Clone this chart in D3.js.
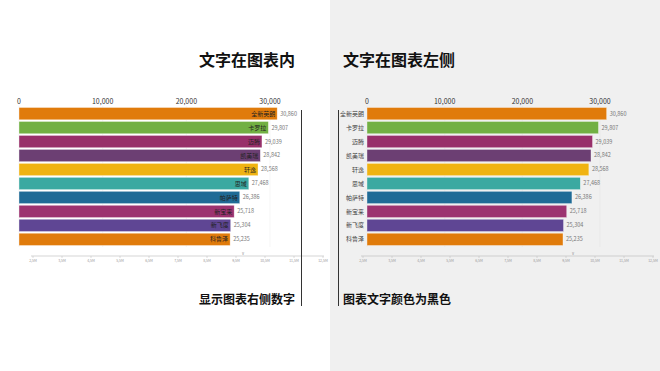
<!DOCTYPE html>
<html lang="zh">
<head>
<meta charset="UTF-8">
<script src="https://d3js.org/d3.v7.min.js"></script>
<style>
    body { margin: 0; background: #fff; }
    svg { display: block; font-family: "Noto Sans CJK SC", "Noto Sans", sans-serif; }
</style>
</head>
<body>
<div id="chart"></div>
<script>
    // data
    var names = ["全新英朗", "卡罗拉", "迈腾", "凯美瑞", "轩逸", "思域", "帕萨特", "新宝来", "新飞度", "科鲁泽"];
    var values = [30860, 29807, 29039, 28842, 28568, 27468, 26386, 25718, 25304, 25235];
    var colors = ["#e07b0b", "#72b043", "#98306a", "#6c3f73", "#f0b312", "#3ba9a1", "#1f6b96", "#9c3370", "#5f4694", "#e07b0b"];
    var topTicks = [0, 10000, 20000, 30000];
    var bottomTicks = ["2,5M", "3,5M", "4,5M", "5,5M", "6,5M", "7,5M", "8,5M", "9,5M", "10,5M", "11,5M", "12,5M"];

    var W = 660, H = 371;
    var svg = d3.select("#chart").append("svg").attr("width", W).attr("height", H);

    // right half background
    svg.append("rect").attr("x", 330).attr("y", 0).attr("width", 330).attr("height", H).attr("fill", "#f0f0f0");

    var fmt = d3.format(",");

    function panel(opt) {
        var g = svg.append("g");
        var x = d3.scaleLinear().domain([0, 30000]).range([opt.x0, opt.x30]);
        var y = d3.scaleBand().domain(d3.range(names.length)).range([107.5, 245.5]).paddingInner(0.12);

        // faint gridlines
        g.selectAll("line.grid").data(topTicks).enter().append("line")
            .attr("x1", function (d) { return x(d); }).attr("x2", function (d) { return x(d); })
            .attr("y1", 106).attr("y2", 247)
            .attr("stroke", opt.gridColor).attr("stroke-width", 0.6);

        // top tick labels
        g.selectAll("text.tick").data(topTicks).enter().append("text")
            .attr("x", function (d) { return x(d); }).attr("y", 104)
            .attr("text-anchor", "middle").attr("font-size", "7px").attr("fill", "#333")
            .text(function (d) { return fmt(d); });

        // bars
        g.selectAll("rect.bar").data(values).enter().append("rect")
            .attr("x", x(0)).attr("y", function (d, i) { return y(i); })
            .attr("width", function (d) { return x(d) - x(0); })
            .attr("height", y.bandwidth())
            .attr("fill", function (d, i) { return colors[i]; })
            .attr("stroke", "#ffffff").attr("stroke-opacity", 0.6).attr("stroke-width", 0.6);

        // names
        g.selectAll("text.name").data(names).enter().append("text")
            .attr("x", function (d, i) { return opt.inside ? x(values[i]) - 2 : x(0) - 3; })
            .attr("y", function (d, i) { return y(i) + y.bandwidth() / 2; })
            .attr("dy", "0.35em").attr("text-anchor", "end")
            .attr("font-size", "6px").attr("fill", opt.inside ? "#222" : "#444")
            .text(function (d) { return d; });

        // values
        g.selectAll("text.val").data(values).enter().append("text")
            .attr("x", function (d) { return x(d) + 3; })
            .attr("y", function (d, i) { return y(i) + y.bandwidth() / 2; })
            .attr("dy", "0.35em")
            .attr("font-size", "5.5px").attr("fill", "#777")
            .text(function (d) { return fmt(d); });

        // small bottom axis
        var b = d3.scalePoint().domain(bottomTicks).range([opt.bx0, opt.bx0 + 290]);
        g.append("line").attr("x1", opt.bx0 - 2).attr("x2", opt.bx0 + 291)
            .attr("y1", 256).attr("y2", 256).attr("stroke", "#bbb").attr("stroke-width", 0.6);
        g.selectAll("line.bt").data(bottomTicks).enter().append("line")
            .attr("x1", function (d) { return b(d); }).attr("x2", function (d) { return b(d); })
            .attr("y1", 256).attr("y2", 258).attr("stroke", "#bbb").attr("stroke-width", 0.5);
        g.selectAll("text.bt").data(bottomTicks).enter().append("text")
            .attr("x", function (d) { return b(d); }).attr("y", 262)
            .attr("text-anchor", "middle").attr("font-size", "3.5px").attr("fill", "#999")
            .text(function (d) { return d; });
        g.append("text").attr("x", opt.bx0 + 210).attr("y", 255)
            .attr("text-anchor", "middle").attr("font-size", "4px").attr("fill", "#888").text("v");

        // vertical line
        g.append("line").attr("x1", opt.vx).attr("x2", opt.vx).attr("y1", 110).attr("y2", 306)
            .attr("stroke", "#333").attr("stroke-width", 1);

        // titles
        g.append("text").attr("x", opt.tx).attr("y", 66).attr("text-anchor", opt.anchor)
            .attr("font-size", "16px").attr("font-weight", "bold").attr("fill", "#111")
            .text(opt.title);
        g.append("text").attr("x", opt.tx).attr("y", 304).attr("text-anchor", opt.anchor)
            .attr("font-size", "12px").attr("font-weight", "bold").attr("fill", "#111")
            .text(opt.note);
    }

    panel({ x0: 19, x30: 270, inside: true, gridColor: "#f0f0f0", bx0: 33, vx: 301.5,
        tx: 295, anchor: "end", title: "文字在图表内", note: "显示图表右侧数字" });
    panel({ x0: 367, x30: 600, inside: false, gridColor: "#e6e6e6", bx0: 363, vx: 338.5,
        tx: 343, anchor: "start", title: "文字在图表左侧", note: "图表文字颜色为黑色" });
</script>
</body>
</html>
